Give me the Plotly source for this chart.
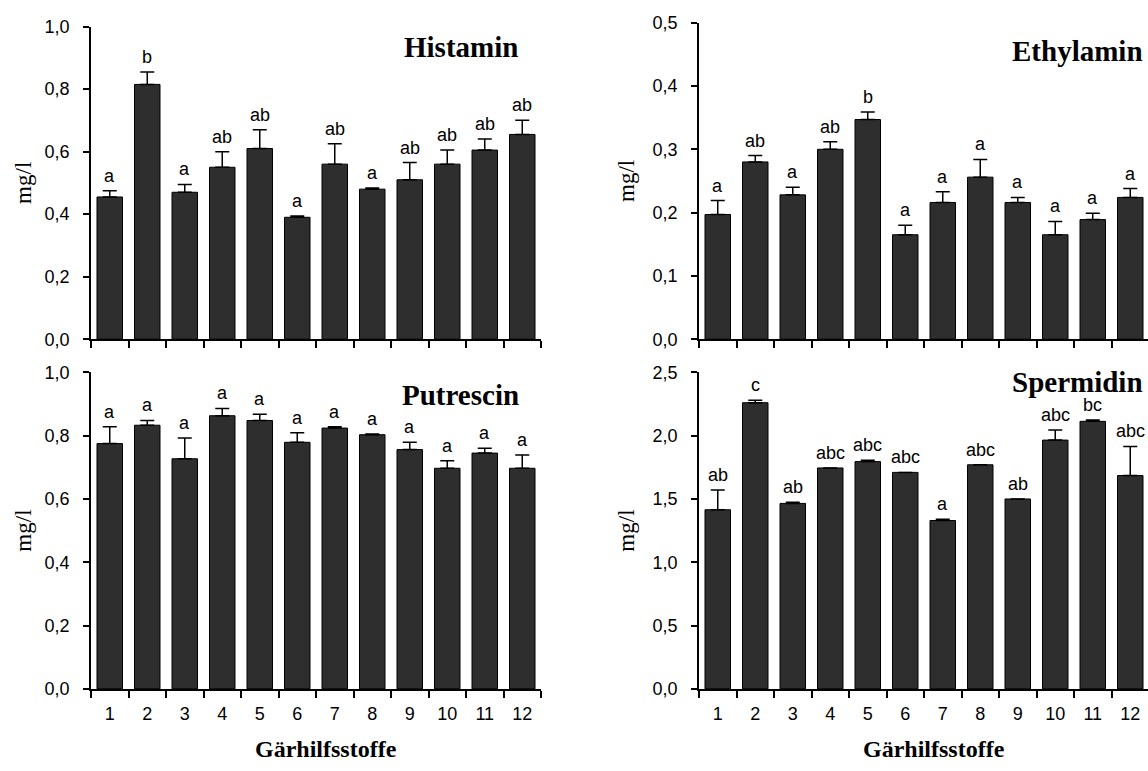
import plotly.graph_objects as go

categories = [str(i) for i in range(1, 13)]

histamin = [0.455, 0.815, 0.47, 0.55, 0.61, 0.39, 0.56, 0.48, 0.51, 0.56, 0.605, 0.655]
histamin_err = [0.02, 0.04, 0.025, 0.05, 0.06, 0.004, 0.065, 0.004, 0.055, 0.045, 0.035, 0.045]
histamin_sig = ["a", "b", "a", "ab", "ab", "a", "ab", "a", "ab", "ab", "ab", "ab"]

ethylamin = [0.197, 0.28, 0.228, 0.30, 0.347, 0.165, 0.216, 0.256, 0.216, 0.165, 0.189, 0.224]
ethylamin_err = [0.022, 0.01, 0.012, 0.012, 0.012, 0.015, 0.017, 0.028, 0.008, 0.021, 0.01, 0.014]
ethylamin_sig = ["a", "ab", "a", "ab", "b", "a", "a", "a", "a", "a", "a", "a"]

putrescin = [0.775, 0.833, 0.727, 0.863, 0.848, 0.779, 0.824, 0.803, 0.756, 0.697, 0.745, 0.697]
putrescin_err = [0.053, 0.015, 0.066, 0.023, 0.02, 0.03, 0.004, 0.002, 0.023, 0.024, 0.015, 0.042]
putrescin_sig = ["a"] * 12

spermidin = [1.415, 2.26, 1.465, 1.745, 1.795, 1.71, 1.33, 1.77, 1.50, 1.965, 2.113, 1.685]
spermidin_err = [0.155, 0.02, 0.01, 0.0, 0.01, 0.0, 0.01, 0.0, 0.0, 0.08, 0.01, 0.23]
spermidin_sig = ["ab", "c", "ab", "abc", "abc", "abc", "a", "abc", "ab", "abc", "bc", "abc"]

panels = [
    ("Histamin", histamin, histamin_err, histamin_sig, [0, 1.0], 0.2),
    ("Ethylamin", ethylamin, ethylamin_err, ethylamin_sig, [0, 0.5], 0.1),
    ("Putrescin", putrescin, putrescin_err, putrescin_sig, [0, 1.0], 0.2),
    ("Spermidin", spermidin, spermidin_err, spermidin_sig, [0, 2.5], 0.5),
]

W, H = 1148, 771
# pixel geometry of plot areas (left, right, top, bottom)
geom = [
    (91, 541, 17, 338),
    (699, 1148, 13, 338),
    (91, 541, 372, 697),
    (699, 1148, 372, 697),
]
title_pos = [(520, 38), (1145, 42), (521, 395), (1145, 382)]
ylab_x = [24, 627, 24, 627]

SANS = "Arial, Liberation Sans, sans-serif"
SERIF = "Times New Roman, Liberation Serif, serif"
TICKFONT = dict(family=SANS, size=18, color="black")

fig = go.Figure()
annotations = []

for i, (name, vals, errs, sig, yrange, dtick) in enumerate(panels):
    n = i + 1
    xa = "x" if n == 1 else f"x{n}"
    ya = "y" if n == 1 else f"y{n}"
    l, r, t, b = geom[i]
    fig.add_trace(go.Bar(
        x=categories, y=vals, xaxis=xa, yaxis=ya,
        marker=dict(color="#2e2e2e", line=dict(color="black", width=1)),
        width=0.68,
        error_y=dict(type="data", array=errs, symmetric=False,
                     arrayminus=[0] * len(errs), color="black",
                     thickness=1.5, width=7),
        showlegend=False, hoverinfo="skip",
    ))
    # significance letters (category index positions)
    for idx, (v, e, s) in enumerate(zip(vals, errs, sig)):
        annotations.append(dict(
            x=idx, y=v + e, xref=xa, yref=ya, text=s, showarrow=False,
            xanchor="center", yanchor="bottom", yshift=3,
            font=dict(family=SANS, size=18, color="black"),
        ))
    # panel title
    tx, ty = title_pos[i]
    annotations.append(dict(
        x=tx / W, y=1 - ty / H, xref="paper", yref="paper",
        text=f"<b>{name}</b>", showarrow=False, xanchor="right", yanchor="middle",
        font=dict(family=SERIF, size=29, color="black"),
    ))
    # y axis label
    annotations.append(dict(
        x=ylab_x[i] / W, y=1 - ((t + b) / 2) / H, xref="paper", yref="paper",
        text="mg/l", showarrow=False, textangle=-90, xanchor="center", yanchor="middle",
        font=dict(family=SERIF, size=23, color="black"),
    ))
    # x range: right panels are clipped at the figure edge
    span_px = r - l
    cat_px = 37.5
    xr = [-0.5, -0.5 + span_px / cat_px] if r >= W else [-0.5, 11.5]
    bottom = n >= 3
    xkey = "xaxis" if n == 1 else f"xaxis{n}"
    ykey = "yaxis" if n == 1 else f"yaxis{n}"
    ticks_vals = [round(k * dtick, 3) for k in range(int(round(yrange[1] / dtick)) + 1)]
    fig.update_layout({
        xkey: dict(
            domain=[l / W, r / W], anchor=ya, type="category", range=xr,
            tickson="boundaries", ticks="outside", ticklen=7, tickwidth=1.5,
            tickcolor="black", showline=True, linecolor="black", linewidth=1.5,
            showgrid=False, zeroline=False, showticklabels=bottom,
            tickfont=TICKFONT, ticklabelstandoff=8,
        ),
        ykey: dict(
            domain=[1 - b / H, 1 - t / H], anchor=xa, range=yrange,
            tickvals=ticks_vals,
            ticktext=["{:.1f}".format(v).replace(".", ",") for v in ticks_vals],
            ticks="outside", ticklen=6, tickwidth=1.5, tickcolor="black",
            showline=True, linecolor="black", linewidth=1.5,
            showgrid=False, zeroline=False, tickfont=TICKFONT, ticklabelstandoff=10,
        ),
    })

# x axis titles for bottom panels
for cx in (326, 934):
    annotations.append(dict(
        x=cx / W, y=1 - 759 / H, xref="paper", yref="paper",
        text="<b>Gärhilfsstoffe</b>", showarrow=False, xanchor="center", yanchor="middle",
        font=dict(family=SERIF, size=24, color="black"),
    ))

fig.update_layout(
    width=W, height=H,
    margin=dict(l=0, r=0, t=0, b=0),
    paper_bgcolor="white", plot_bgcolor="white",
    barmode="group",
    annotations=annotations,
)

fig.write_html(
    "out.html",
    config={"displayModeBar": False},
    post_script="document.body.style.margin='0';document.body.style.overflow='hidden';",
)
